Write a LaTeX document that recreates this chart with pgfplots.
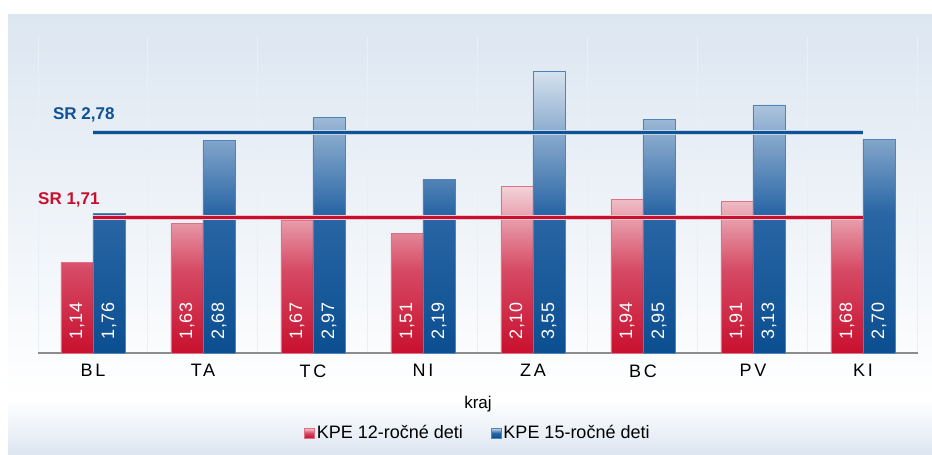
\documentclass[border=0pt]{standalone}
\usepackage{pgfplots}
\pgfplotsset{compat=1.18}
\usepackage{fontspec}
\setmainfont{Liberation Sans}
\newfontfamily\spaced[LetterSpace=15]{Liberation Sans}
\newfontfamily\lblfont[LetterSpace=4]{Liberation Sans}
\definecolor{bgtop}{HTML}{DCE6F1}
\definecolor{gridc}{HTML}{E9EFF6}
\definecolor{axisgray}{HTML}{8C8C8C}
\definecolor{redD}{HTML}{C8102E}
\definecolor{redM}{HTML}{D64A64}
\definecolor{redL}{HTML}{F3D2D8}
\definecolor{redE}{HTML}{E07085}
\definecolor{blueD}{HTML}{0B4F91}
\definecolor{blueM}{HTML}{2A66A5}
\definecolor{blueL}{HTML}{D5E1EE}
\definecolor{blueE}{HTML}{4F84BA}
\definecolor{srred}{HTML}{C8102E}
\definecolor{srblue}{HTML}{0F5295}
\begin{document}
\begin{tikzpicture}
\useasboundingbox (0,0) rectangle (932bp,-455bp);
\shade[top color=bgtop, bottom color=white] (8bp,-14bp) rectangle (932bp,-400bp);
\shade[top color=white, bottom color=bgtop] (8bp,-400bp) rectangle (932bp,-455bp);
\begin{axis}[
  at={(38bp,-353bp)}, anchor=south west,
  width=880bp, height=317bp, scale only axis,
  xmin=-0.5, xmax=7.5, ymin=0, ymax=4,
  axis x line=bottom, axis y line=none,
  x axis line style={-, draw=axisgray, line width=1.2bp},
  xtick={0,...,7},
  xticklabels={BL,TA,TC,NI,ZA,BC,PV,KI},
  xticklabel style={font=\spaced\fontsize{18bp}{21bp}\selectfont, yshift=-8bp},
  minor xtick={-0.5,0.5,...,7.5},
  xminorgrids, minor grid style={draw=gridc, line width=1bp},
  major tick length=0pt, minor tick length=0pt,
  xlabel={kraj},
  x label style={at={(axis description cs:0.5,0)}, anchor=center, yshift=-51bp, font=\fontsize{17bp}{20bp}\selectfont},
  ybar=0pt,
  /pgf/number format/assume math mode=true,
  legend style={at={(axis description cs:0.5,0)}, anchor=center, yshift=-80bp,
    draw=none, fill=none, legend columns=2,
    font=\fontsize{18bp}{21bp}\selectfont,
    /tikz/every even column/.append style={column sep=26bp}},
  legend image code/.code={\draw[#1, line width=0.5bp] (0bp,-5bp) rectangle (10bp,5bp);},
  visualization depends on={rawy \as \rawy},
  every node near coord/.append style={shift={(axis direction cs:0,-\rawy)}, yshift=13bp,
    rotate=90, anchor=west, inner sep=0pt, text=white,
    font=\lblfont\fontsize{18bp}{21bp}\selectfont},
]
\addplot[bar width=32bp, bar shift=-16bp, draw=redE, line width=0.8bp,
  top color=redL, bottom color=redD, middle color=redM,
  nodes near coords={\pgfmathprintnumber[fixed, fixed zerofill, precision=2, use comma]{\pgfplotspointmeta}}]
  coordinates {(0,1.14) (1,1.63) (2,1.67) (3,1.51) (4,2.10) (5,1.94) (6,1.91) (7,1.68)};
\addlegendentry{KPE 12-ročné deti}
\addplot[bar width=32bp, bar shift=16bp, draw=blueE, line width=0.8bp,
  top color=blueL, bottom color=blueD, middle color=blueM,
  nodes near coords={\pgfmathprintnumber[fixed, fixed zerofill, precision=2, use comma]{\pgfplotspointmeta}}]
  coordinates {(0,1.76) (1,2.68) (2,2.97) (3,2.19) (4,3.55) (5,2.95) (6,3.13) (7,2.70)};
\addlegendentry{KPE 15-ročné deti}
\addplot[sharp plot, forget plot, fill=none, mark=none, draw=srblue, line width=3.5bp,
  preaction={draw=srblue!25, line width=5.5bp}]
  coordinates {(0,2.78) (7,2.78)};
\addplot[sharp plot, forget plot, fill=none, mark=none, draw=srred, line width=3.5bp,
  preaction={draw=srred!25, line width=5.5bp}]
  coordinates {(0,1.71) (7,1.71)};
\node[anchor=west, inner sep=0pt, text=srblue, font=\bfseries\fontsize{17bp}{20bp}\selectfont]
  at (axis cs:-0.364,3.0) {SR 2,78};
\node[anchor=west, inner sep=0pt, text=srred, font=\bfseries\fontsize{17bp}{20bp}\selectfont]
  at (axis cs:-0.5,1.93) {SR 1,71};
\end{axis}
\end{tikzpicture}
\end{document}
